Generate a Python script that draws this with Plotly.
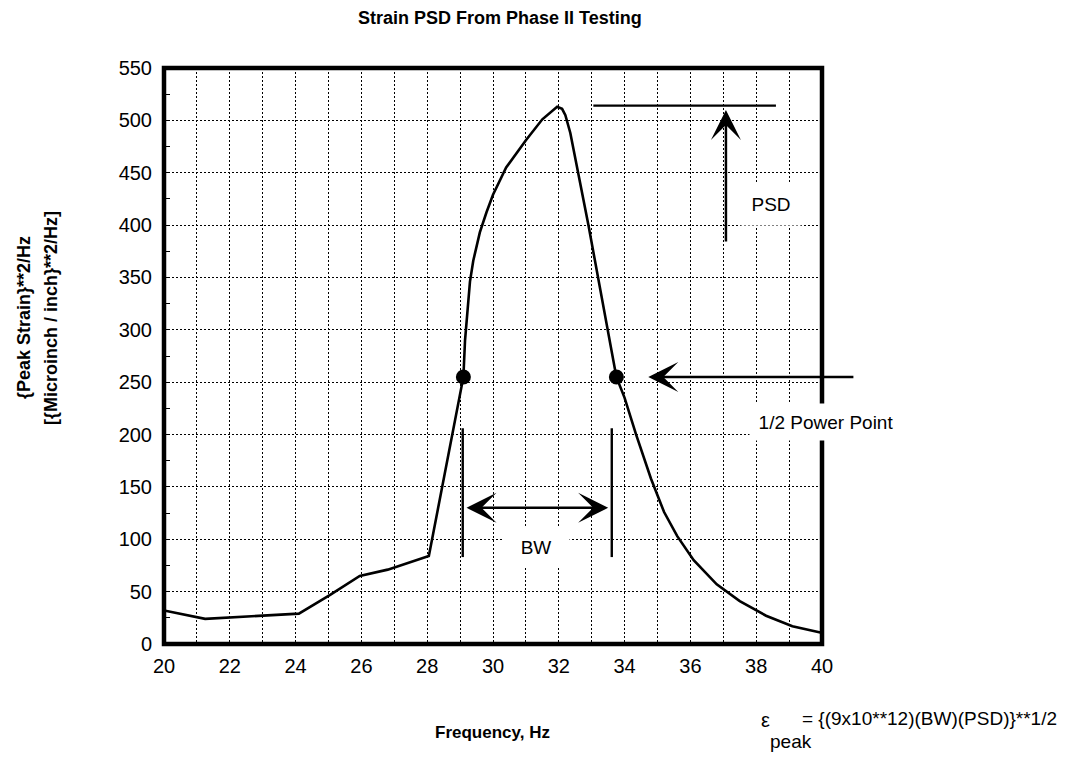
import plotly.graph_objects as go

# ---------------- data ----------------
freq = [20.0, 21.25, 24.1, 25.05, 25.95, 26.8, 28.05, 29.1, 29.15, 29.2, 29.25, 29.3, 29.4,
        29.5, 29.6, 29.8, 30.0, 30.4, 31.0, 31.5, 31.95, 32.1, 32.2, 32.35, 32.9, 33.75,
        34.0, 34.35, 34.8, 35.2, 35.6, 36.1, 36.8, 37.5, 38.3, 39.1, 39.95]
psd = [32, 24, 29, 47, 65, 71, 84, 255, 290, 312, 331, 346, 366,
       381, 393, 412, 429, 455, 481, 501, 513, 511, 505, 488, 400, 255,
       235, 200, 158, 126, 103, 80, 57, 41, 27, 17, 11]

half_power_x = [29.1, 33.75]
half_power_y = [255, 255]

x_tick_vals = [20, 22, 24, 26, 28, 30, 32, 34, 36, 38, 40]
x_tick_text = ["20", "22", "24", "26", "28", "30", "32", "34", "36", "38", "40"]
y_tick_vals = [0, 50, 100, 150, 200, 250, 300, 350, 400, 450, 500, 550]
y_tick_text = ["0", "50", "100", "150", "200", "250", "300", "350", "400", "450", "500", "550"]

# annotation geometry (data units)
psd_level_x = [33.05, 38.6]
psd_level_y = 514
psd_arrow_x = 37.08
psd_arrow_y = [383, 510]
bw_lines_x = [29.08, 33.61]
bw_lines_y = [83, 206]
bw_arrow_x = [29.15, 33.5]
bw_arrow_y = 130
hp_arrow_x = [41.0, 34.72]
hp_arrow_y = 255

title_text = "Strain PSD From Phase II Testing"
x_title = "Frequency, Hz"
y_title_1 = "{Peak Strain}**2/Hz"
y_title_2 = "[{Microinch / inch}**2/Hz]"

FONT = "Liberation Sans, Arial, Helvetica, sans-serif"

# ---------------- layout geometry (reference page pixels) ----------------
W, H = 1073, 757
BODY = 8                     # default body margin of the html page
L, R, T, B = 164, 822, 68, 644


def px_x(p):
    return (p - L) / (R - L)


def px_y(p):
    return (B - p) / (B - T)


fig = go.Figure()

fig.add_trace(go.Scatter(x=freq, y=psd, mode="lines",
                         line=dict(color="black", width=2.6), hoverinfo="skip"))
fig.add_trace(go.Scatter(x=half_power_x, y=half_power_y, mode="markers",
                         marker=dict(color="black", size=15), hoverinfo="skip"))

grid_dash = "2px,2px"
fig.update_xaxes(range=[20, 40], tickmode="array", tickvals=x_tick_vals, ticktext=x_tick_text,
                 showgrid=True, gridcolor="black", gridwidth=1.2, griddash=grid_dash,
                 zeroline=False, showline=False, ticks="",
                 minor=dict(dtick=1, showgrid=True, gridcolor="black", gridwidth=1.2, griddash=grid_dash),
                 tickfont=dict(family=FONT, size=20, color="black"), ticklabelstandoff=8)
fig.update_yaxes(range=[0, 550], tickmode="array", tickvals=y_tick_vals, ticktext=y_tick_text,
                 showgrid=True, gridcolor="black", gridwidth=1.2, griddash=grid_dash,
                 zeroline=False, showline=False, ticks="",
                 minor=dict(dtick=25, ticks="inside", ticklen=6, tickwidth=1.3, tickcolor="black",
                            showgrid=False),
                 tickfont=dict(family=FONT, size=20, color="black"), ticklabelstandoff=11)

shapes = [
    dict(type="rect", xref="paper", yref="paper", x0=0, x1=1, y0=0, y1=1,
         line=dict(color="black", width=4.5), layer="above"),
    dict(type="line", xref="x", yref="y", x0=psd_level_x[0], x1=psd_level_x[1],
         y0=psd_level_y, y1=psd_level_y, line=dict(color="black", width=2.2)),
    dict(type="line", xref="x", yref="y", x0=bw_lines_x[0], x1=bw_lines_x[0],
         y0=bw_lines_y[0], y1=bw_lines_y[1], line=dict(color="black", width=2.4)),
    dict(type="line", xref="x", yref="y", x0=bw_lines_x[1], x1=bw_lines_x[1],
         y0=bw_lines_y[0], y1=bw_lines_y[1], line=dict(color="black", width=2.4)),
]


def label(px, py, text, size, bold=False, angle=0, xanchor="center", **kw):
    t = "<b>" + text + "</b>" if bold else text
    return dict(x=px_x(px), y=px_y(py), xref="paper", yref="paper", text=t,
                showarrow=False, xanchor=xanchor, yanchor="middle", textangle=angle,
                font=dict(family=FONT, size=size, color="black"), **kw)


annotations = []
# white label boxes
annotations.append(label(771, 204, "PSD", 19, bgcolor="white", width=58, height=40))
annotations.append(label(536, 547, "BW", 19, bgcolor="white", width=64, height=37))
annotations.append(label(826, 422, "1/2 Power Point", 19, bgcolor="white", width=150, height=34))
# arrows
arrow_style = dict(xref="x", yref="y", axref="x", ayref="y", text="", showarrow=True,
                   arrowhead=3, arrowsize=2.0, arrowwidth=2.5, arrowcolor="black")
annotations.append(dict(x=psd_arrow_x, y=psd_arrow_y[1], ax=psd_arrow_x, ay=psd_arrow_y[0], **arrow_style))
annotations.append(dict(x=bw_arrow_x[1], y=bw_arrow_y, ax=bw_arrow_x[0], ay=bw_arrow_y,
                        startarrowhead=3, arrowside="end+start", startarrowsize=2.0, **arrow_style))
annotations.append(dict(x=hp_arrow_x[1], y=hp_arrow_y, ax=hp_arrow_x[0], ay=hp_arrow_y, **arrow_style))
# titles
annotations.append(label(500, 18, title_text, 18, bold=True))
annotations.append(label(492, 732, x_title, 17, bold=True))
annotations.append(label(24, 318, y_title_1, 18, bold=True, angle=-90))
annotations.append(label(51, 318, y_title_2, 18, bold=True, angle=-90))
# formula
annotations.append(label(759, 720, "ε", 20, xanchor="left"))
annotations.append(label(800, 718, "= {(9x10**12)(BW)(PSD)}**1/2", 19, xanchor="left"))
annotations.append(label(768, 741, "peak", 19, xanchor="left"))

fig.update_layout(width=W - BODY, height=H - BODY,
                  margin=dict(l=L - BODY, r=W - R, t=T - BODY, b=H - B, pad=0),
                  paper_bgcolor="white", plot_bgcolor="white", showlegend=False,
                  shapes=shapes, annotations=annotations,
                  font=dict(family=FONT, color="black"))

fig.write_html("out.html")
